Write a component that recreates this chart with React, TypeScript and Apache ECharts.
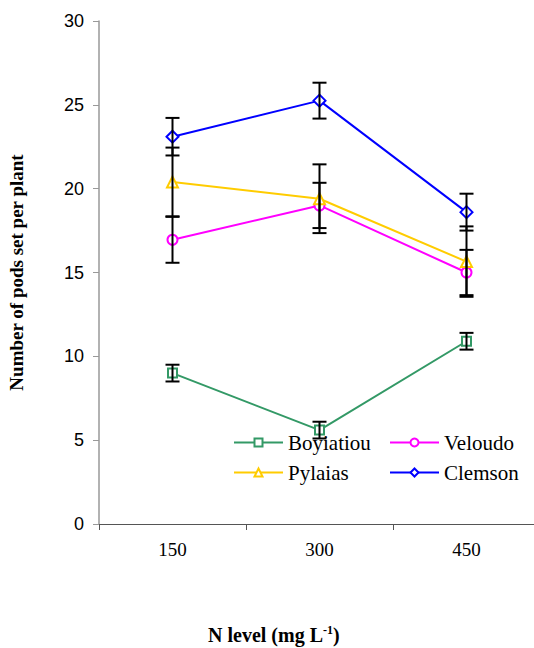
import React, { useEffect, useRef } from "react";
import * as echarts from "echarts";

const categories = ["150", "300", "450"];
const boyiatiou = [9.0, 5.6, 10.9];
const boyiatiouErr = [0.5, 0.5, 0.5];
const veloudo = [16.95, 19.0, 15.0];
const veloudoErr = [1.37, 1.35, 1.35];
const pylaias = [20.4, 19.4, 15.65];
const pylaiasErr = [2.05, 2.05, 2.1];
const clemson = [23.1, 25.25, 18.6];
const clemsonErr = [1.12, 1.07, 1.1];
const yTicks = [0, 5, 10, 15, 20, 25, 30];

const seriesDefs = [
  { name: "Boyiatiou", data: boyiatiou, err: boyiatiouErr, color: "#339966", symbol: "emptyRect", size: 9 },
  { name: "Veloudo", data: veloudo, err: veloudoErr, color: "#FF00FF", symbol: "emptyCircle", size: 10 },
  { name: "Pylaias", data: pylaias, err: pylaiasErr, color: "#FFCC00", symbol: "emptyTriangle", size: 11 },
  { name: "Clemson", data: clemson, err: clemsonErr, color: "#0000FF", symbol: "emptyDiamond", size: 12 },
];

const legendPos = [
  { name: "Boyiatiou", left: 233, top: 432 },
  { name: "Veloudo", left: 389, top: 432 },
  { name: "Pylaias", left: 233, top: 462 },
  { name: "Clemson", left: 389, top: 462 },
];

export default function App() {
  const ref = useRef<HTMLDivElement>(null);
  useEffect(() => {
    if (!ref.current) return;
    const chart = echarts.init(ref.current, null, { renderer: "svg" });
    const lineSeries = seriesDefs.map((s) => ({
      name: s.name,
      type: "line",
      data: s.data,
      symbol: s.symbol,
      symbolSize: s.size,
      showAllSymbol: true,
      lineStyle: { color: s.color, width: 2 },
      itemStyle: { color: s.color, borderColor: s.color, borderWidth: 2 },
      z: 3,
    }));
    const errSeries = seriesDefs.map((s) => ({
      name: s.name + " err",
      type: "custom",
      data: s.data.map((v, i) => [i, v - s.err[i], v + s.err[i]]),
      encode: { x: 0, y: [1, 2] },
      z: 5,
      silent: true,
      renderItem: (params: any, api: any) => {
        const lo = api.coord([api.value(0), api.value(1)]);
        const hi = api.coord([api.value(0), api.value(2)]);
        const hw = 7;
        const st = { stroke: "#000", lineWidth: 2 };
        return {
          type: "group",
          children: [
            { type: "line", shape: { x1: lo[0], y1: lo[1], x2: hi[0], y2: hi[1] }, style: st },
            { type: "line", shape: { x1: lo[0] - hw, y1: lo[1], x2: lo[0] + hw, y2: lo[1] }, style: st },
            { type: "line", shape: { x1: hi[0] - hw, y1: hi[1], x2: hi[0] + hw, y2: hi[1] }, style: st },
          ],
        };
      },
    }));
    chart.setOption({
      animation: false,
      textStyle: { fontFamily: "Liberation Serif" },
      grid: { left: 99, top: 21, right: -6, bottom: 124, containLabel: false, outerBoundsMode: "none" },
      xAxis: {
        type: "category",
        data: categories,
        boundaryGap: true,
        axisLine: { lineStyle: { color: "#555", width: 1 } },
        axisTick: { show: true, length: 6, inside: false, alignWithLabel: false, lineStyle: { color: "#555" } },
        axisLabel: { fontFamily: "Liberation Serif", fontSize: 19, color: "#000", margin: 16 },
        splitLine: { show: false },
      },
      yAxis: {
        type: "value",
        min: yTicks[0],
        max: yTicks[yTicks.length - 1],
        interval: 5,
        name: "Number of pods set per plant",
        nameLocation: "middle",
        nameRotate: 90,
        nameGap: 73,
        nameTextStyle: { fontFamily: "Liberation Serif", fontWeight: "bold", fontSize: 19, color: "#000" },
        axisLine: { show: true, lineStyle: { color: "#999", width: 1.5 } },
        axisTick: { show: true, length: 6, inside: false, lineStyle: { color: "#999" } },
        axisLabel: { fontFamily: "Liberation Sans", fontSize: 18, color: "#000", margin: 15 },
        splitLine: { show: false },
      },
      legend: legendPos.map((l) => ({
        data: [l.name],
        left: l.left,
        top: l.top,
        padding: 0,
        itemWidth: 49,
        itemHeight: 10,
        itemGap: 6,
        selectedMode: false,
        formatter: "{t|{name}}",
        textStyle: {
          fontFamily: "Liberation Serif",
          fontSize: 21,
          color: "#000",
          rich: { t: { fontFamily: "Liberation Serif", fontSize: 21, color: "#000" } },
        },
      })),
      graphic: [
        {
          type: "text",
          left: 208,
          top: 624,
          style: {
            text: "{a|N level (mg L}{s|-1}{a|)}",
            rich: {
              a: { fontFamily: "Liberation Serif", fontWeight: "bold", fontSize: 20, fill: "#000" },
              s: { fontFamily: "Liberation Serif", fontWeight: "bold", fontSize: 12, fill: "#000", verticalAlign: "top", padding: [0, 0, 9, 0] },
            },
          },
        },
      ],
      series: [...lineSeries, ...errSeries],
    });
    return () => chart.dispose();
  }, []);
  return <div ref={ref} style={{ width: 534, height: 648, position: "absolute", left: 0, top: 0 }} />;
}
